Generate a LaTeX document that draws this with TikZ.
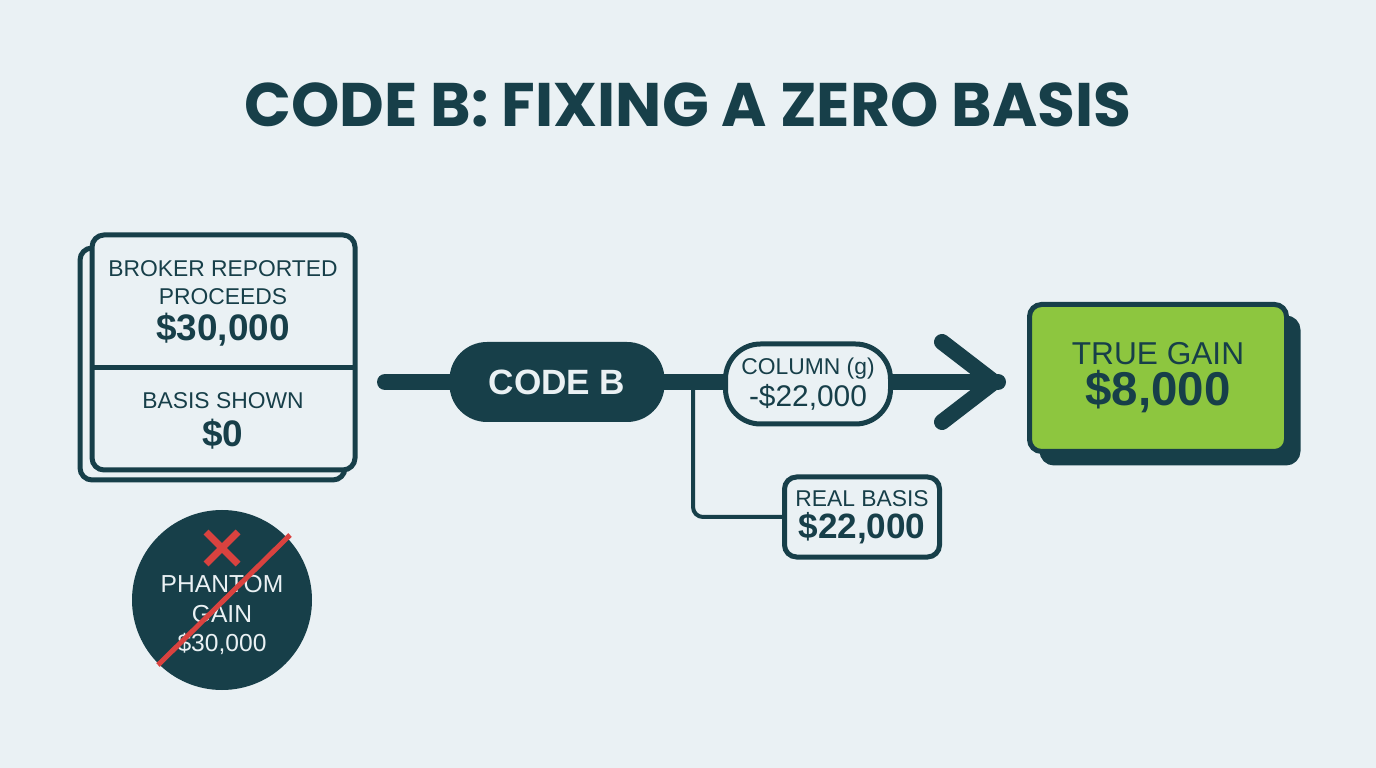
\documentclass[tikz,border=0pt]{standalone}
\usepackage{fontspec}
\setmainfont{Liberation Sans}
\newfontfamily\titlefont{Poppins}
\usetikzlibrary{positioning,arrows.meta}
\definecolor{bgc}{HTML}{EAF1F4}
\definecolor{ink}{HTML}{173F49}
\definecolor{gainc}{HTML}{8DC63F}
\definecolor{crossc}{HTML}{D9423F}
\begin{document}
\begin{tikzpicture}[x=0.2mm,y=-0.2mm,
    card/.style ={draw=ink, line width=1mm, rounded corners=2.4mm, fill=bgc},
    pill/.style ={rounded corners=7mm, line width=1mm, draw=ink},
    label/.style ={text=ink, align=center, font=\fontsize{13}{16}\selectfont},
    amount/.style ={text=ink, align=center, font=\bfseries\fontsize{21}{25}\selectfont}]
   \fill[bgc] (0,0) rectangle (1376,768);
   \node[text=ink, font=\titlefont\bfseries\fontsize{35}{40}\selectfont] (title) at (688,105) {CODE B: FIXING A ZERO BASIS};

   % broker statement
   \draw[card] (80,248) rectangle (345,480);
   \draw[card] (92,235) rectangle (355,470);
   \draw[ink, line width=1mm] (92,368) coordinate (divl) -- (355,368) coordinate (divr);
   \node[label] (proc) at (223,283) {BROKER REPORTED\\PROCEEDS};
   \node[amount] (procv) at (223,330) {\$30,000};
   \node[label] (shown) at (223,401) {BASIS SHOWN};
   \node[amount] (shownv) at (223,434) {\$0};

   % phantom gain
   \node[circle, fill=ink, minimum size=36mm] (phantom) at (222,600) {};
   \node[text=bgc, align=center, font=\fontsize{14}{17}\selectfont] (phtext) at (222,615) {PHANTOM\\GAIN\\\$30,000};
   \coordinate (s1) at (158,665);
   \coordinate (s2) at (290,535);
   \draw[crossc, line width=1mm] (s1) -- (s2);
   \coordinate (xa) at (206,532);
   \coordinate (xb) at (238,564);
   \coordinate (xc) at (238,532);
   \coordinate (xd) at (206,564);
   \draw[crossc, line width=1.4mm] (xa) -- (xb) (xc) -- (xd);

   % flow
   \coordinate (start) at (385,382);
   \coordinate (tip) at (998,382);
   \coordinate (fork) at (693,382);
   \coordinate (bend) at (693,517);
   \draw[ink, line width=3.2mm, line cap=round] (start) -- (tip);
   \draw[ink, line width=3.2mm, line cap=round, line join=round] (942,342) -- (994,382) -- (942,422);
   \node[pill, fill=ink, minimum width=42mm, minimum height=15mm, text=bgc, font=\bfseries\fontsize{20}{24}\selectfont] (codeb) at (557,382) {CODE B};
   \node[pill, fill=bgc, minimum width=33mm, minimum height=16mm, label, inner sep=1mm] (col) at (808,384) {COLUMN (g)\\[2pt]\fontsize{17}{20}\selectfont -\$22,000};
   \node[card, minimum width=31mm, minimum height=16mm, label, inner sep=1mm] (real) at (862,517) {REAL BASIS\\[2pt]\fontsize{20}{24}\selectfont\bfseries \$22,000};
   \draw[ink, line width=0.8mm, rounded corners=2mm] (fork) -- (bend) -- (real.west);

   % true gain
   \draw[draw=ink, fill=ink, line width=1mm, rounded corners=2.4mm] (1042,318) rectangle (1298,463);
   \node[draw=ink, fill=gainc, line width=1mm, rounded corners=2.4mm, minimum width=51.4mm, minimum height=29.4mm, align=center, text=ink] (gain) at (1158,378)
     {\fontsize{18}{22}\selectfont TRUE GAIN\\[2pt]\bfseries\fontsize{27}{32}\selectfont \$8,000};
\end{tikzpicture}
\end{document}
